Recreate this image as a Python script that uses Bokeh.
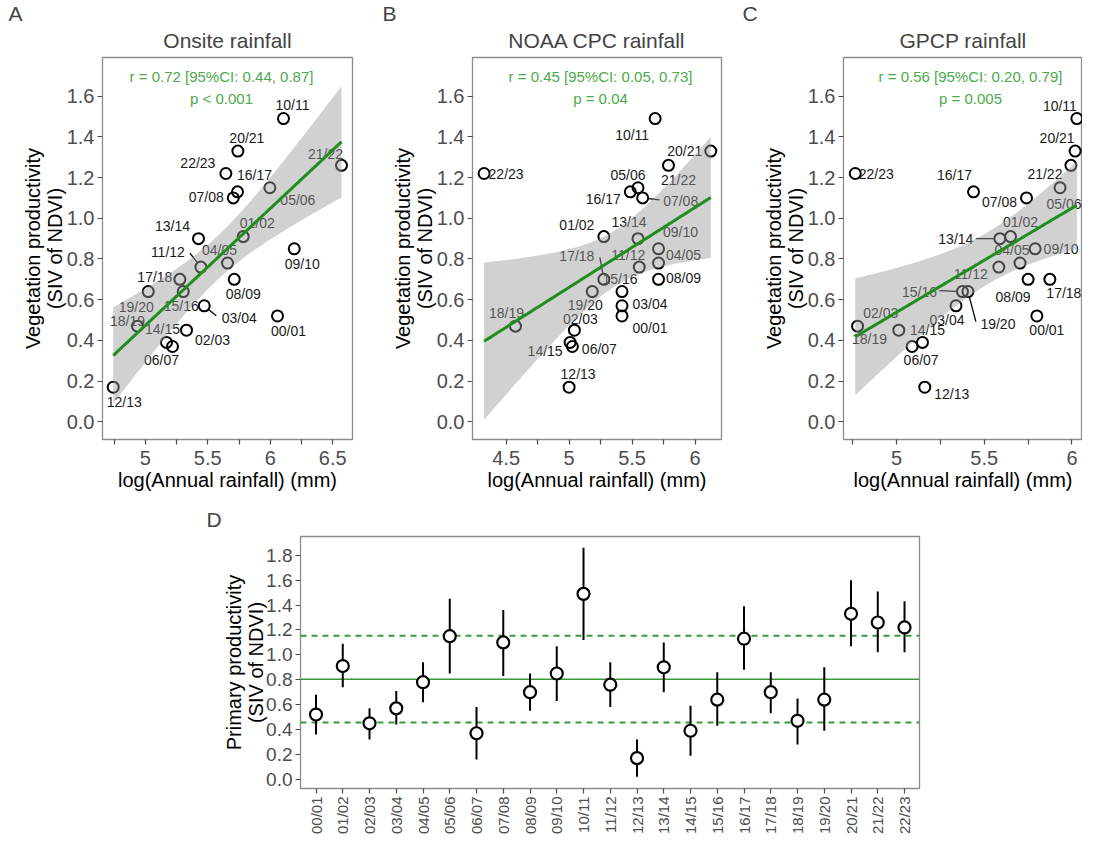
import numpy as np
from bokeh.plotting import figure
from bokeh.models import FixedTicker, Title, Span, Range1d, PrintfTickFormatter
from bokeh.layouts import column, row
from bokeh.core.properties import value
from bokeh.embed import file_html
from bokeh.resources import INLINE

# ---------------- data ----------------
years = ["00/01", "01/02", "02/03", "03/04", "04/05", "05/06", "06/07", "07/08",
         "08/09", "09/10", "10/11", "11/12", "12/13", "13/14", "14/15", "15/16",
         "16/17", "17/18", "18/19", "19/20", "20/21", "21/22", "22/23"]
siv = [0.52, 0.91, 0.45, 0.57, 0.78, 1.15, 0.37, 1.10, 0.70, 0.85, 1.49, 0.76,
       0.17, 0.90, 0.39, 0.64, 1.13, 0.70, 0.47, 0.64, 1.33, 1.26, 1.22]
siv_lo = [0.36, 0.74, 0.32, 0.44, 0.62, 0.85, 0.16, 0.83, 0.55, 0.63, 1.12, 0.58,
          0.02, 0.70, 0.19, 0.43, 0.88, 0.53, 0.28, 0.39, 1.07, 1.02, 1.02]
siv_hi = [0.68, 1.09, 0.57, 0.71, 0.94, 1.45, 0.58, 1.36, 0.85, 1.07, 1.86, 0.94,
          0.32, 1.10, 0.59, 0.86, 1.39, 0.86, 0.65, 0.90, 1.60, 1.51, 1.43]
rain_onsite = [6.058, 5.784, 5.330, 5.472, 5.658, 5.997, 5.218, 5.704, 5.712, 6.192,
               6.106, 5.445, 4.744, 5.426, 5.170, 5.304, 5.738, 5.277, 4.938, 5.024,
               5.741, 6.570, 5.645]
rain_noaa = [5.420, 5.276, 5.042, 5.420, 5.710, 5.547, 5.026, 5.584, 5.710, 5.710,
             5.683, 5.557, 5.000, 5.547, 5.008, 5.420, 5.486, 5.276, 4.574, 5.184,
             6.125, 5.789, 4.325]
rain_gpcp = [5.800, 5.650, 5.013, 5.339, 5.704, 5.932, 5.089, 5.741, 5.750, 5.790,
             6.028, 5.583, 5.161, 5.589, 5.148, 5.376, 5.439, 5.874, 4.778, 5.407,
             6.018, 5.994, 4.765]
stats_text = {
    "A": ("r = 0.72 [95%CI: 0.44, 0.87]", "p < 0.001"),
    "B": ("r = 0.45 [95%CI: 0.05, 0.73]", "p = 0.04"),
    "C": ("r = 0.56 [95%CI: 0.20, 0.79]", "p = 0.005"),
}

# ---------------- label placement (pixels, y down) ----------------
off_A = [(11, 15), (14, -14), (26, 10), (35, 12), (-8, -13), (28, 12), (-11, 14), (-27, -1),
         (9, 15), (8, 15), (9, -14), (-33, -15), (11, 15), (-26, -13), (-4, -13), (-2, 14),
         (17, -17), (-25, -2), (-10, -5), (-12, 15), (9, -13), (-16, -11), (-28, -11)]
off_B = [(28, 12), (-27, -12), (6, -11), (28, -2), (25, -8), (-10, -13), (27, 3), (38, 3),
         (25, -1), (22, -17), (-23, 16), (-11, -12), (9, -13), (-9, -17), (-25, 9), (-2, -13),
         (-27, 7), (-27, -23), (-9, -13), (-7, 13), (-26, 0), (10, 15), (22, 0)]
off_C = [(10, 14), (10, -15), (-18, -17), (-9, 14), (-8, -13), (4, 16), (9, 14), (-27, 4),
         (-15, 18), (26, 0), (-17, -13), (-28, 7), (27, 7), (-44, 0), (5, -12), (-43, 0),
         (-19, -17), (14, 14), (12, 13), (30, 32), (-18, -13), (-26, 9), (21, 0)]
lead_A = [(11, -11, -14), (3, 12, 10)]
lead_B = [(17, -4, -22), (7, 17, 2)]
lead_C = [(13, -24, 0), (15, -23, -1), (19, 8, 30)]

FONT = value("Liberation Sans")
GREEN_TXT = "#4caa4c"
GREEN_LINE = "#1f8e1f"
TICK_COL = "#4d4d4d"
YR = (-0.087, 1.79)
FH = 382


def set_title(t, text, align, offset, standoff, valign="bottom"):
    t.text = text
    t.align = align
    t.offset = offset
    t.vertical_align = valign
    t.text_font = "Liberation Sans"
    t.text_font_size = "21px"
    t.text_font_style = "normal"
    try:
        t.text_line_height = 1.0
    except Exception:
        pass
    try:
        t.standoff = standoff
    except Exception:
        pass


def style(p, tick_size="20px"):
    p.xgrid.visible = False
    p.ygrid.visible = False
    p.outline_line_color = "#8c8c8c"
    p.outline_line_width = 1.3
    p.background_fill_color = "white"
    for ax in (p.xaxis, p.yaxis):
        ax.axis_line_color = None
        ax.major_tick_line_color = TICK_COL
        ax.major_tick_line_width = 1.2
        ax.major_tick_out = 5
        ax.major_tick_in = 0
        ax.minor_tick_line_color = None
        ax.major_label_text_font = "Liberation Sans"
        ax.major_label_text_font_size = tick_size
        ax.major_label_text_color = TICK_COL
        ax.axis_label_text_font = "Liberation Sans"
        ax.axis_label_text_font_size = "20px"
        ax.axis_label_text_font_style = "normal"
        ax.axis_label_text_color = "black"
        ax.axis_label_text_line_height = 1.0
        ax.major_label_standoff = 3


def scatter_panel(rain, offs, leads, xr, fw, bl, br, xticks, xlabs, title, letter, loff, key, stx):
    p = figure(frame_width=fw, frame_height=FH, x_range=Range1d(*xr), y_range=Range1d(*YR),
               output_backend="svg", toolbar_location=None,
               min_border_left=bl, min_border_right=br, min_border_top=49, min_border_bottom=53)
    style(p)
    # outer title (letter)
    set_title(p.title, letter, "left", loff, -1)
    # inner title (panel name)
    sub = Title(text=title)
    set_title(sub, title, "center", 0, 8, valign="top")
    p.add_layout(sub, "above")
    p.xaxis.ticker = FixedTicker(ticks=xticks)
    p.xaxis.major_label_overrides = {t: l for t, l in zip(xticks, xlabs)}
    p.yaxis.ticker = FixedTicker(ticks=[0.0, 0.2, 0.4, 0.6, 0.8, 1.0, 1.2, 1.4, 1.6])
    p.yaxis.formatter = PrintfTickFormatter(format="%.1f")
    p.xaxis.axis_label = "log(Annual rainfall) (mm)"
    p.yaxis.axis_label = "Vegetation productivity\n(SIV of NDVI)"
    p.yaxis.axis_label_standoff = -2
    p.xaxis.major_label_standoff = 6
    p.xaxis.axis_label_standoff = 1

    x = np.array(rain)
    y = np.array(siv)
    sx = fw / (xr[1] - xr[0])
    sy = FH / (YR[1] - YR[0])

    # points
    p.scatter(x, y, size=11, fill_color=None, line_color="black", line_width=2)
    # leaders
    x0s, y0s, x1s, y1s = [], [], [], []
    for i, dx, dy in leads:
        d = np.hypot(dx, dy)
        x0s.append(x[i] + 6 * dx / d / sx)
        y0s.append(y[i] - 6 * dy / d / sy)
        x1s.append(x[i] + dx / sx)
        y1s.append(y[i] - dy / sy)
    p.segment(x0s, y0s, x1s, y1s, line_color="black", line_width=1.3)
    # labels
    p.text(x, y, text=years, x_offset=[o[0] for o in offs], y_offset=[o[1] for o in offs],
           text_align="center", text_baseline="middle", text_font=FONT,
           text_font_size="14px", text_color="#1a1a1a")

    # regression with 95% CI
    n = len(x)
    b1, b0 = np.polyfit(x, y, 1)
    xs = np.linspace(x.min(), x.max(), 100)
    yhat = b0 + b1 * xs
    resid = y - (b0 + b1 * x)
    s = np.sqrt(np.sum(resid ** 2) / (n - 2))
    sxx = np.sum((x - x.mean()) ** 2)
    tval = 2.0796
    se = s * np.sqrt(1.0 / n + (xs - x.mean()) ** 2 / sxx)
    p.varea(x=xs, y1=yhat - tval * se, y2=yhat + tval * se, fill_color="#999999", fill_alpha=0.45)
    p.line(xs, yhat, line_color=GREEN_LINE, line_width=3)

    r_txt, p_txt = stats_text[key]
    tx = xr[0] + stx / sx
    p.text([tx], [YR[1] - 19.4 / sy], text=[r_txt], text_align="center", text_baseline="middle",
           text_font=FONT, text_font_size="15px", text_color=GREEN_TXT)
    p.text([tx], [YR[1] - 41 / sy], text=[p_txt], text_align="center", text_baseline="middle",
           text_font=FONT, text_font_size="15px", text_color=GREEN_TXT)
    return p


pA = scatter_panel(rain_onsite, off_A, lead_A, (4.658, 6.658), 250, 102, 10,
                   [4.75, 5.0, 5.25, 5.5, 5.75, 6.0, 6.25, 6.5],
                   ["", "5", "", "5.5", "", "6", "", "6.5"],
                   "Onsite rainfall", "A", -94, "A", 119)
pB = scatter_panel(rain_noaa, off_B, lead_B, (4.233, 6.21), 249, 110, 11,
                   [4.5, 4.75, 5.0, 5.25, 5.5, 5.75, 6.0],
                   ["4.5", "", "5", "", "5.5", "", "6"],
                   "NOAA CPC rainfall", "B", -90, "B", 128)
pC = scatter_panel(rain_gpcp, off_C, lead_C, (4.698, 6.06), 239, 111, 0,
                   [4.75, 5.0, 5.25, 5.5, 5.75, 6.0],
                   ["", "5", "", "5.5", "", "6"],
                   "GPCP rainfall", "C", -101, "C", 127)

# ---------------- panel D ----------------
pD = figure(frame_width=619, frame_height=252, x_range=Range1d(0.42, 23.56),
            y_range=Range1d(-0.074, 1.951), output_backend="svg", toolbar_location=None,
            min_border_left=300, min_border_right=10, min_border_top=43, min_border_bottom=46)
style(pD, tick_size="19px")
pD.xaxis.major_label_text_font_size = "15px"
set_title(pD.title, "D", "left", -94, 11)
xi = list(range(1, len(years) + 1))
pD.xaxis.ticker = FixedTicker(ticks=xi)
pD.xaxis.major_label_overrides = {i: yv for i, yv in zip(xi, years)}
pD.xaxis.major_label_orientation = np.pi / 2
pD.yaxis.ticker = FixedTicker(ticks=[0.0, 0.2, 0.4, 0.6, 0.8, 1.0, 1.2, 1.4, 1.6, 1.8])
pD.yaxis.formatter = PrintfTickFormatter(format="%.1f")
pD.yaxis.axis_label = "Primary productivity\n(SIV of NDVI)"
pD.yaxis.axis_label_standoff = -4

m = float(np.mean(siv))
sd = float(np.std(siv, ddof=1))
pD.add_layout(Span(location=m, dimension="width", line_color="#3a9a3a", line_width=1.6, level="underlay"))
for loc in (m - sd, m + sd):
    pD.add_layout(Span(location=loc, dimension="width", line_color="#3a9a3a", line_width=2,
                       line_dash="6 5", level="underlay"))
pD.segment(xi, siv_lo, xi, siv_hi, line_color="black", line_width=2)
pD.scatter(xi, siv, size=12, fill_color="white", line_color="black", line_width=2.2)

layout = column(row(pA, pB, pC), pD)
open("out.html", "w").write(file_html(layout, INLINE))
